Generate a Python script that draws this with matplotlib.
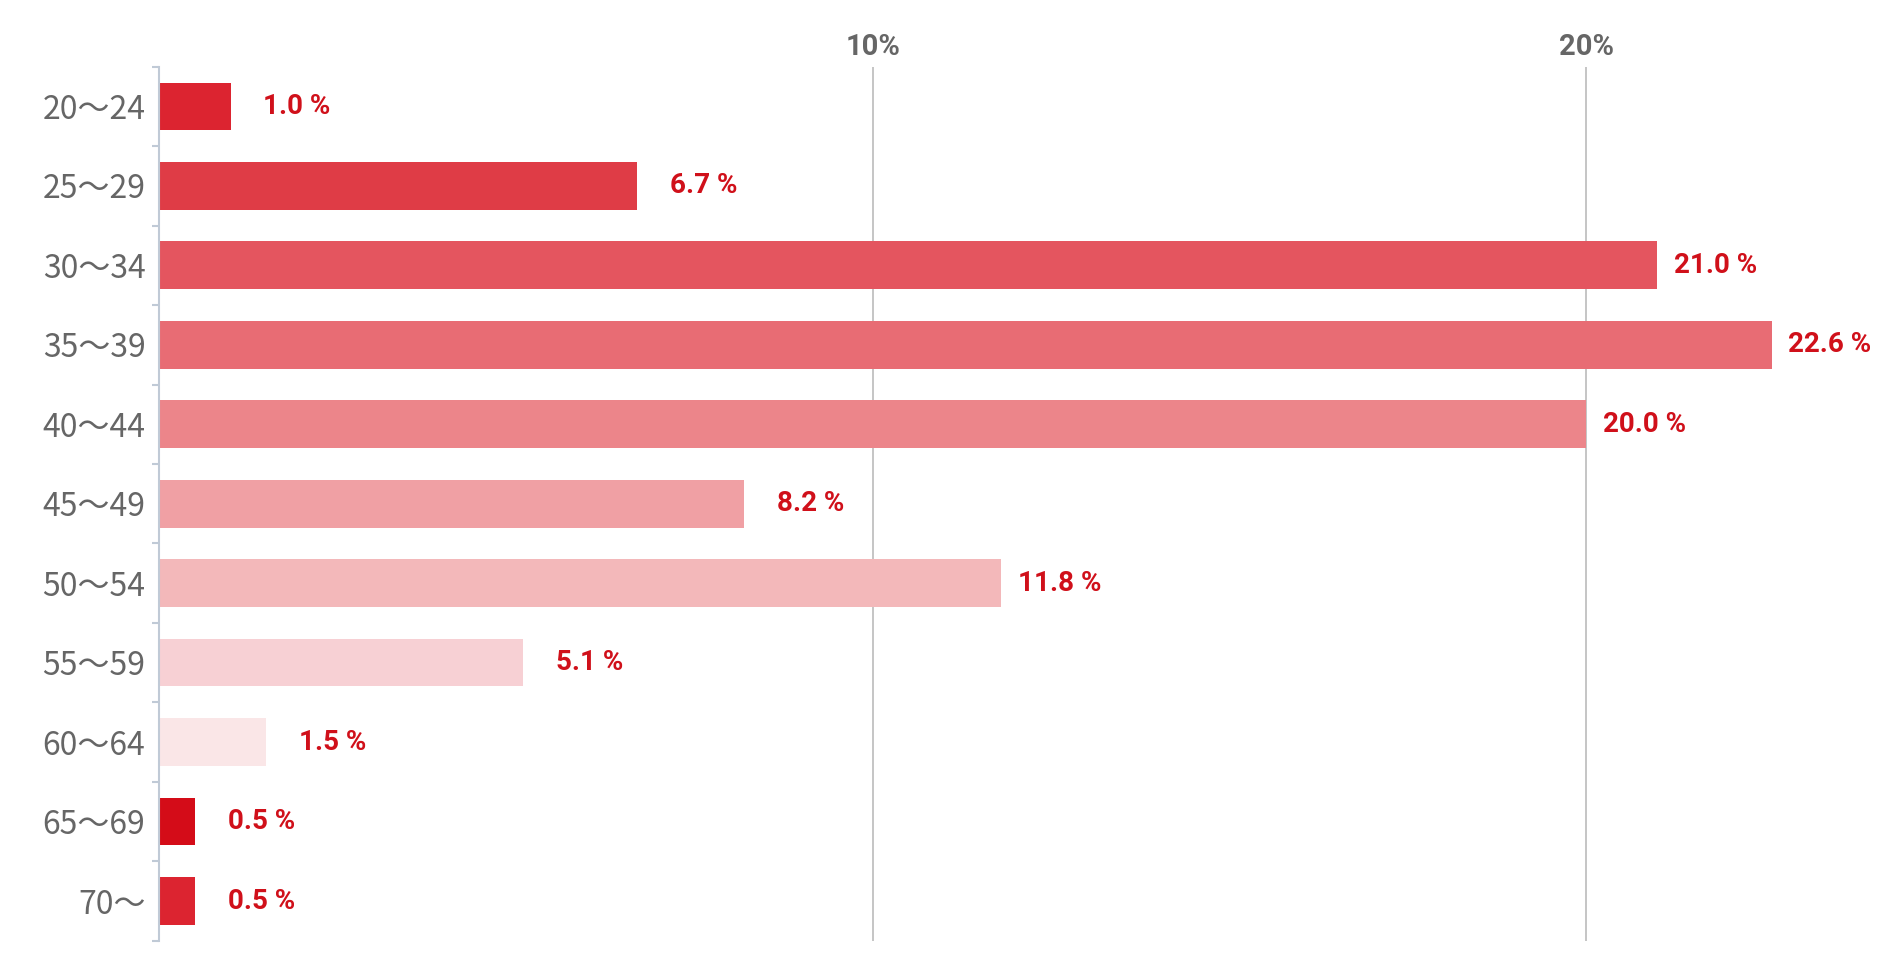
import numpy as np
import matplotlib.pyplot as plt

# データ
ages = ['20〜24', '25〜29', '30〜34', '35〜39', '40〜44', '45〜49',
        '50〜54', '55〜59', '60〜64', '65〜69', '70〜']
shares = [1.0, 6.7, 21.0, 22.6, 20.0, 8.2, 11.8, 5.1, 1.5, 0.5, 0.5]
bar_colors = ['#dc2430', '#df3c46', '#e4555f', '#e86c74', '#ec858a', '#f0a0a4',
              '#f3b8ba', '#f7d0d4', '#fae6e7', '#d40c18', '#dc2430']
x_ticks = [10, 20]
x_tick_labels = ['10%', '20%']

fig = plt.figure(figsize=(18.79, 9.8), dpi=100)
ax = fig.add_axes([0.0848, 0.040, 0.9112, 0.892])

y = np.arange(len(ages))
ax.barh(y, shares, height=0.6, color=bar_colors, zorder=2)

# 値ラベル（右揃え）
for yi, v in zip(y, shares):
    ax.annotate(f'{v:.1f} %', (v, yi), xytext=(72, 0), textcoords='offset points',
                ha='right', va='center', fontsize=20, fontweight='bold',
                color='#d0101a', family=['Roboto', 'DejaVu Sans'],
                annotation_clip=False)

ax.set_xlim(0, 24)
ax.set_ylim(len(ages) - 0.5, -0.5)

# 上の目盛り
ax.xaxis.tick_top()
ax.set_xticks(x_ticks)
ax.set_xticklabels(x_tick_labels, fontsize=21, fontweight='bold', color='#666666',
                   family=['Roboto', 'DejaVu Sans'])
ax.tick_params(axis='x', length=0, pad=4)
ax.grid(axis='x', color='#bbbbbb', linewidth=1.2, zorder=1)

# 左の軸
ax.set_yticks(y)
ax.set_yticklabels(ages, fontsize=23, color='#666666',
                   family=['Noto Sans CJK JP', 'DejaVu Sans'])
ax.set_yticks(np.arange(-0.5, len(ages), 1.0), minor=True)
ax.tick_params(axis='y', which='major', length=0, pad=10)
ax.tick_params(axis='y', which='minor', length=5, width=1.5, color='#c0cad6')

for s in ['top', 'right', 'bottom']:
    ax.spines[s].set_visible(False)
ax.spines['left'].set_color('#c0cad6')
ax.spines['left'].set_linewidth(1.5)

plt.savefig('out.png')
